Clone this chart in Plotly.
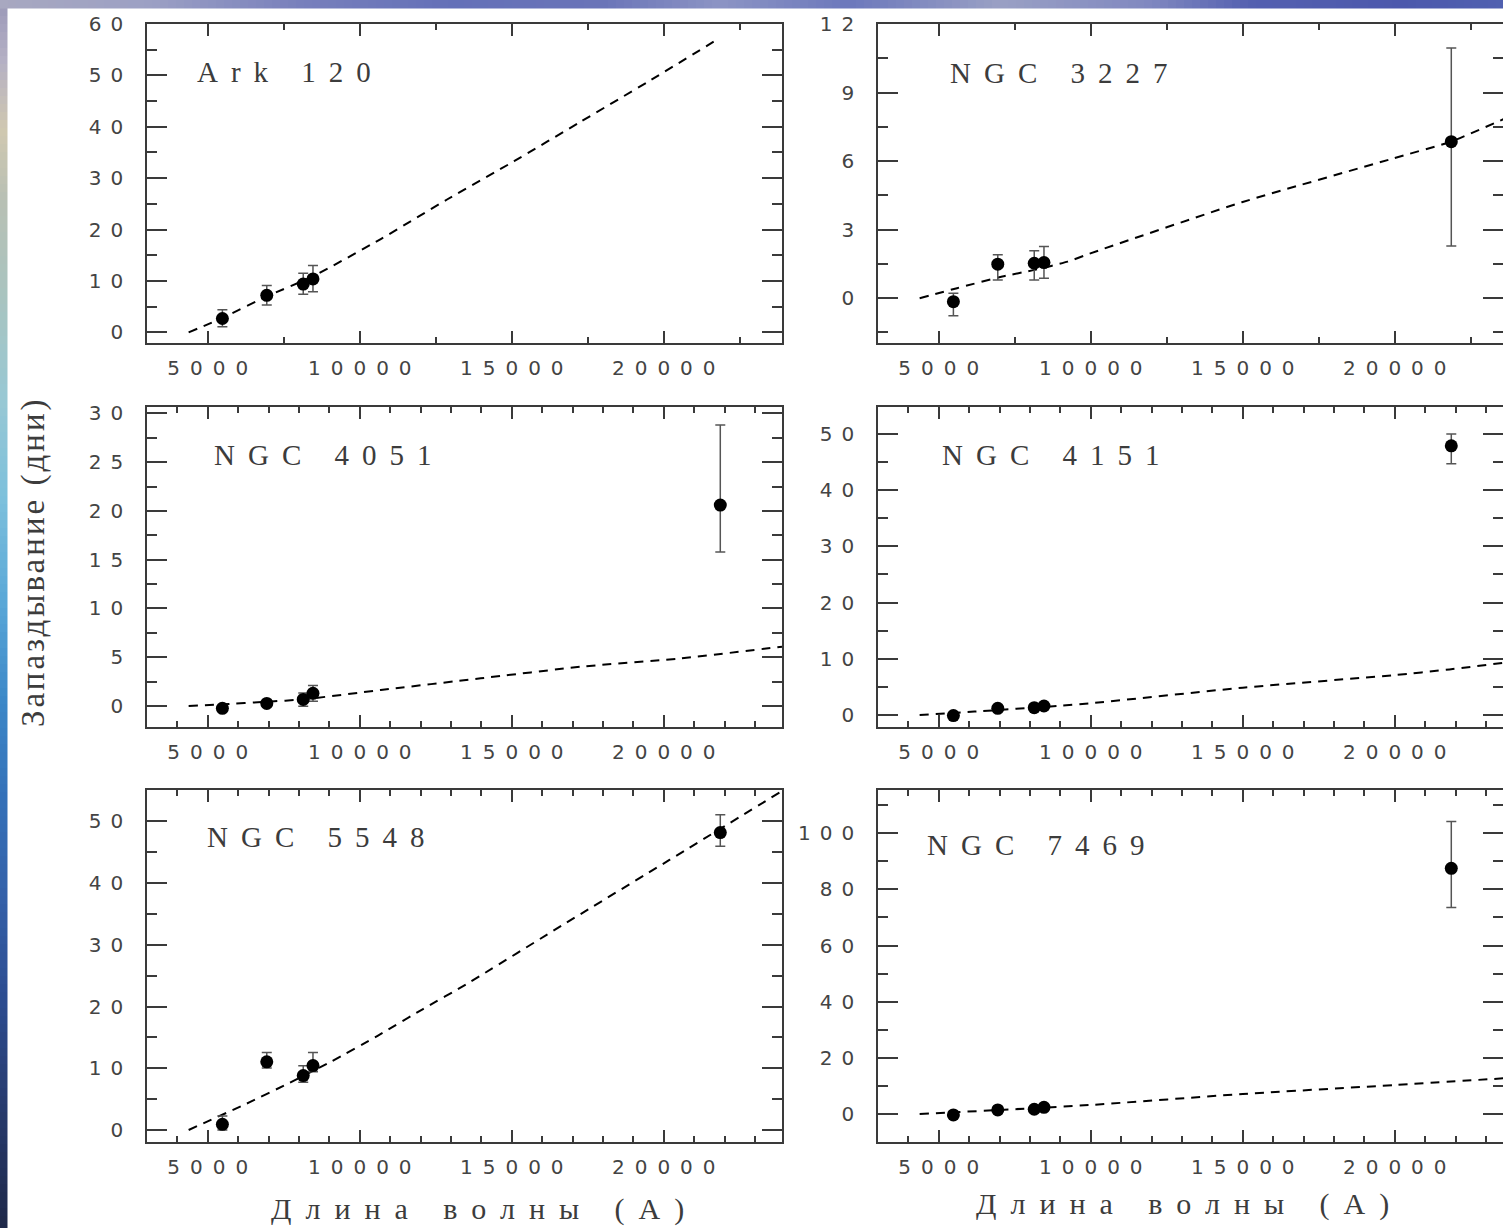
import plotly.graph_objects as go

W, H = 1503, 1228

# ---- data -------------------------------------------------------------
# wavelengths of the four optical bands and the K band (Angstrom)
wavelength = [5480, 6940, 8140, 8460, 21860]

names = ["Ark 120", "NGC 3227", "NGC 4051", "NGC 4151", "NGC 5548", "NGC 7469"]

# measured lags (days) with upper / lower errors
ark120_lag = [2.7, 7.2, 9.4, 10.4]
ark120_err_hi = [1.7, 1.9, 2.1, 2.6]
ark120_err_lo = [1.6, 1.9, 2.0, 2.5]

ngc3227_lag = [-0.15, 1.49, 1.53, 1.56, 6.85]
ngc3227_err_hi = [0.37, 0.41, 0.55, 0.70, 4.1]
ngc3227_err_lo = [0.62, 0.69, 0.73, 0.69, 4.56]

ngc4051_lag = [-0.24, 0.27, 0.68, 1.3, 20.6]
ngc4051_err_hi = [0.3, 0.3, 0.65, 0.8, 8.2]
ngc4051_err_lo = [0.3, 0.3, 0.7, 0.8, 4.8]

ngc4151_lag = [-0.1, 1.19, 1.3, 1.6, 47.9]
ngc4151_err_hi = [0.4, 0.4, 0.4, 0.4, 2.1]
ngc4151_err_lo = [0.4, 0.4, 0.4, 0.4, 3.2]

ngc5548_lag = [0.92, 11.04, 8.82, 10.44, 48.2]
ngc5548_err_hi = [1.35, 1.5, 1.57, 2.1, 2.9]
ngc5548_err_lo = [0.92, 1.0, 1.08, 1.0, 2.2]

ngc7469_lag = [-0.36, 1.42, 1.66, 2.37, 87.5]
ngc7469_err_hi = [1.0, 1.0, 1.0, 1.0, 16.7]
ngc7469_err_lo = [1.0, 1.0, 1.0, 1.0, 14.0]

# fitted lag-wavelength relations (dashed curves)
ark120_fit_wl = [4370, 5480, 6940, 8460, 10690, 12885, 15076, 17270, 19464, 21820]
ark120_fit_lag = [0, 2.8, 7.0, 10.9, 18.15, 25.9, 33.3, 41.0, 48.7, 57.2]

ngc3227_fit_wl = [4370, 5600, 7090, 8160, 9240, 9960, 14970, 19960, 21840, 23600]
ngc3227_fit_lag = [0, 0.44, 0.95, 1.24, 1.6, 1.95, 4.2, 6.12, 6.85, 7.85]

ngc4051_fit_wl = [4370, 5480, 6940, 8140, 10690, 13980, 17270, 20560, 23890]
ngc4051_fit_lag = [0, 0.17, 0.44, 0.68, 1.64, 2.84, 4.03, 4.88, 6.08]

ngc4151_fit_wl = [4370, 6170, 8900, 10000, 15000, 20000, 21800, 23600]
ngc4151_fit_lag = [0, 0.6, 1.6, 2.08, 4.86, 7.1, 8.1, 9.3]

ngc5548_fit_wl = [4370, 6380, 7590, 9070, 10600, 12080, 13500, 16800, 20200, 23880]
ngc5548_fit_lag = [0, 4.5, 7.4, 11.1, 15.3, 19.6, 23.6, 33.6, 43.8, 54.9]

ngc7469_fit_wl = [4370, 5500, 7000, 10000, 15000, 20000, 23600]
ngc7469_fit_lag = [0, 0.6, 1.4, 3.2, 7.1, 10.3, 12.7]

# axis ticks
x_major = [5000, 10000, 15000, 20000]
y_major = [
    [0, 10, 20, 30, 40, 50, 60],
    [0, 3, 6, 9, 12],
    [0, 5, 10, 15, 20, 25, 30],
    [0, 10, 20, 30, 40, 50],
    [0, 10, 20, 30, 40, 50],
    [0, 20, 40, 60, 80, 100],
]
y_minor_step = [5, 1.5, 2.5, 5, 5, 10]
x_minor_step = [2500, 2500, 1000, 1000, 1000, 1000]
y_ranges = [
    [-2.07, 60.0],
    [-1.96, 12.0],
    [-2.15, 30.65],
    [-2.14, 54.8],
    [-1.95, 55.1],
    [-10.0, 115.4],
]

x_axis_title = "Длина волны (А)"
y_axis_title = "Запаздывание (дни)"

# ---- layout geometry (page pixels) -----------------------------------
cols = [(147, 782), (878, 1503)]
rows = [(24, 343), (407, 727), (790, 1142)]
x_start = 3000
ang_per_px = (23890 - 3000) / (782 - 147)
label_px = [(195, 72), (948, 73), (212, 455), (940, 455), (205, 837), (925, 845)]

INK = "#3a3a3a"
TICK_FONT = dict(family="DejaVu Sans", size=20, color="#444444")
SERIF = "Liberation Serif"


def spaced(text, gap):
    """Widen the letter pitch of a label (no trailing gap after the last glyph)."""
    text = str(text)
    if len(text) < 2:
        return text
    return "<span style='letter-spacing:%gpx'>%s</span>%s" % (gap, text[:-1], text[-1])


series = [
    (ark120_lag, ark120_err_hi, ark120_err_lo, ark120_fit_wl, ark120_fit_lag),
    (ngc3227_lag, ngc3227_err_hi, ngc3227_err_lo, ngc3227_fit_wl, ngc3227_fit_lag),
    (ngc4051_lag, ngc4051_err_hi, ngc4051_err_lo, ngc4051_fit_wl, ngc4051_fit_lag),
    (ngc4151_lag, ngc4151_err_hi, ngc4151_err_lo, ngc4151_fit_wl, ngc4151_fit_lag),
    (ngc5548_lag, ngc5548_err_hi, ngc5548_err_lo, ngc5548_fit_wl, ngc5548_fit_lag),
    (ngc7469_lag, ngc7469_err_hi, ngc7469_err_lo, ngc7469_fit_wl, ngc7469_fit_lag),
]

fig = go.Figure()
layout = {}
annotations = []

for i, (lag, ehi, elo, fwl, flag) in enumerate(series):
    n = i + 1
    sfx = "" if n == 1 else str(n)
    xid, yid = "x" + sfx, "y" + sfx
    col, row = i % 2, i // 2
    xl, xr = cols[col]
    yt, yb = rows[row]

    fig.add_trace(go.Scatter(
        x=fwl, y=flag, mode="lines", xaxis=xid, yaxis=yid,
        line=dict(color="black", width=2, dash="9px,7px", shape="spline", smoothing=0.5),
        hoverinfo="skip", showlegend=False,
    ))
    fig.add_trace(go.Scatter(
        x=wavelength[:len(lag)], y=lag, mode="markers", xaxis=xid, yaxis=yid,
        marker=dict(color="black", size=13, line=dict(width=0)),
        error_y=dict(type="data", symmetric=False, array=ehi, arrayminus=elo,
                     color="#555555", thickness=1.5, width=5),
        showlegend=False,
    ))

    layout["xaxis" + sfx] = dict(
        domain=[xl / W, xr / W], anchor=yid, automargin=False,
        range=[x_start, x_start + (xr - xl) * ang_per_px],
        tickmode="array", tickvals=x_major,
        ticktext=[spaced(v, 10) for v in x_major],
        ticks="inside", ticklen=12, tickwidth=1.5, tickcolor=INK,
        showline=True, linecolor=INK, linewidth=1.6, mirror="ticks",
        showgrid=False, zeroline=False, tickfont=TICK_FONT, ticklabelstandoff=6,
        minor=dict(ticks="inside", ticklen=6, tickwidth=1.5, tickcolor=INK,
                   dtick=x_minor_step[i], tick0=0, showgrid=False),
    )
    ymaj = y_major[i]
    yaxis = dict(
        domain=[1 - yb / H, 1 - yt / H], anchor=xid, range=y_ranges[i], automargin=False,
        tickmode="array", tickvals=ymaj, ticktext=[spaced(v, 9) for v in ymaj],
        ticks="inside", ticklen=20, tickwidth=1.5, tickcolor=INK,
        showline=True, linecolor=INK, linewidth=1.6,
        mirror="ticks" if col == 0 else False,
        showgrid=False, zeroline=False, tickfont=TICK_FONT, ticklabelstandoff=18,
        minor=dict(ticks="inside", ticklen=10, tickwidth=1.5, tickcolor=INK,
                   dtick=y_minor_step[i], tick0=0, showgrid=False),
    )
    layout["yaxis" + sfx] = yaxis

    if col == 1:
        # right-hand ticks of the panels that run off the right edge of the page
        k = 6 + row + 1
        oid = "y%d" % k
        layout["yaxis%d" % k] = dict(
            overlaying=yid, side="right", anchor=xid, range=y_ranges[i], automargin=False,
            tickmode="array", tickvals=ymaj, showticklabels=False,
            ticks="inside", ticklen=20, tickwidth=1.5, tickcolor=INK,
            showline=False, showgrid=False, zeroline=False,
            minor=dict(ticks="inside", ticklen=10, tickwidth=1.5, tickcolor=INK,
                       dtick=y_minor_step[i], tick0=0, showgrid=False),
        )
        fig.add_trace(go.Scatter(x=[], y=[], xaxis=xid, yaxis=oid,
                                 showlegend=False, hoverinfo="skip"))

    lx, ly = label_px[i]
    annotations.append(dict(
        text=spaced(names[i], 13), showarrow=False,
        xref=xid + " domain", yref=yid + " domain",
        x=(lx - xl) / (xr - xl), y=(yb - ly) / (yb - yt),
        xanchor="left", yanchor="middle",
        font=dict(family=SERIF, size=29, color="#3c3c3c"),
    ))

# axis titles
for cx, cy in [(477, 1209), (1182, 1204)]:
    annotations.append(dict(
        text=spaced(x_axis_title, 14), showarrow=False, xref="paper", yref="paper",
        x=cx / W, y=1 - cy / H, xanchor="center", yanchor="middle",
        font=dict(family=SERIF, size=30, color="#3c3c3c"),
    ))
annotations.append(dict(
    text=spaced(y_axis_title, 3), showarrow=False, xref="paper", yref="paper",
    x=33 / W, y=1 - 563 / H, xanchor="center", yanchor="middle", textangle=-90,
    font=dict(family=SERIF, size=33, color="#3c3c3c"),
))


# ---- slide background strips along the top and left edges ------------
def hex_rgb(h):
    h = h.lstrip("#")
    return [int(h[j:j + 2], 16) for j in (0, 2, 4)]


def blend(stops, t):
    for (t0, c0), (t1, c1) in zip(stops, stops[1:]):
        if t0 <= t <= t1:
            f = 0 if t1 == t0 else (t - t0) / (t1 - t0)
            a, b = hex_rgb(c0), hex_rgb(c1)
            return "rgb(%d,%d,%d)" % tuple(round(a[j] + (b[j] - a[j]) * f) for j in range(3))
    return stops[-1][1]


left_stops = [(0, "#9a98b8"), (60, "#b4b0c4"), (130, "#d0c8b0"), (200, "#b8c0b4"),
              (300, "#a8c4c0"), (400, "#98c8d4"), (500, "#7cc0dc"), (600, "#5aa8d8"),
              (700, "#3c88c8"), (800, "#3470b8"), (900, "#3460a8"), (1000, "#2c4c90"),
              (1100, "#283c70"), (1228, "#1e2848")]
top_stops = [(0, "#a8a8c0"), (150, "#9ca0c4"), (300, "#7880bc"), (450, "#6470b8"),
             (600, "#6a74b8"), (720, "#8c94c4"), (850, "#6c78bc"), (1000, "#9aa0c4"),
             (1150, "#8088c0"), (1250, "#5460b0"), (1400, "#4c58ac"), (1503, "#5060b0")]

shapes = []
strip_w, strip_h = 7.5, 8.5
step = 8
for y0 in range(0, H, step):
    y1 = min(H, y0 + step)
    shapes.append(dict(type="rect", xref="paper", yref="paper", layer="below",
                       x0=0, x1=strip_w / W, y0=1 - y1 / H, y1=1 - y0 / H,
                       fillcolor=blend(left_stops, (y0 + y1) / 2), line=dict(width=0)))
for x0 in range(0, W, step):
    x1 = min(W, x0 + step)
    shapes.append(dict(type="rect", xref="paper", yref="paper", layer="below",
                       x0=x0 / W, x1=x1 / W, y0=1 - strip_h / H, y1=1,
                       fillcolor=blend(top_stops, (x0 + x1) / 2), line=dict(width=0)))

fig.update_layout(
    template="none",
    width=W, height=H, autosize=False,
    margin=dict(l=0, r=0, t=0, b=0, pad=0),
    paper_bgcolor="white", plot_bgcolor="white",
    showlegend=False, annotations=annotations, shapes=shapes,
    **layout,
)

# pin the figure to the top-left corner of the page, without scrollbars
page_js = (
    "document.documentElement.style.margin='0';"
    "document.documentElement.style.overflow='hidden';"
    "document.body.style.margin='0';"
    "document.body.style.overflow='hidden';"
    "var gd=document.getElementById('{plot_id}');"
    "gd.style.position='fixed';gd.style.left='0px';gd.style.top='0px';"
)
fig.write_html("out.html", config=dict(displayModeBar=False), post_script=page_js)
